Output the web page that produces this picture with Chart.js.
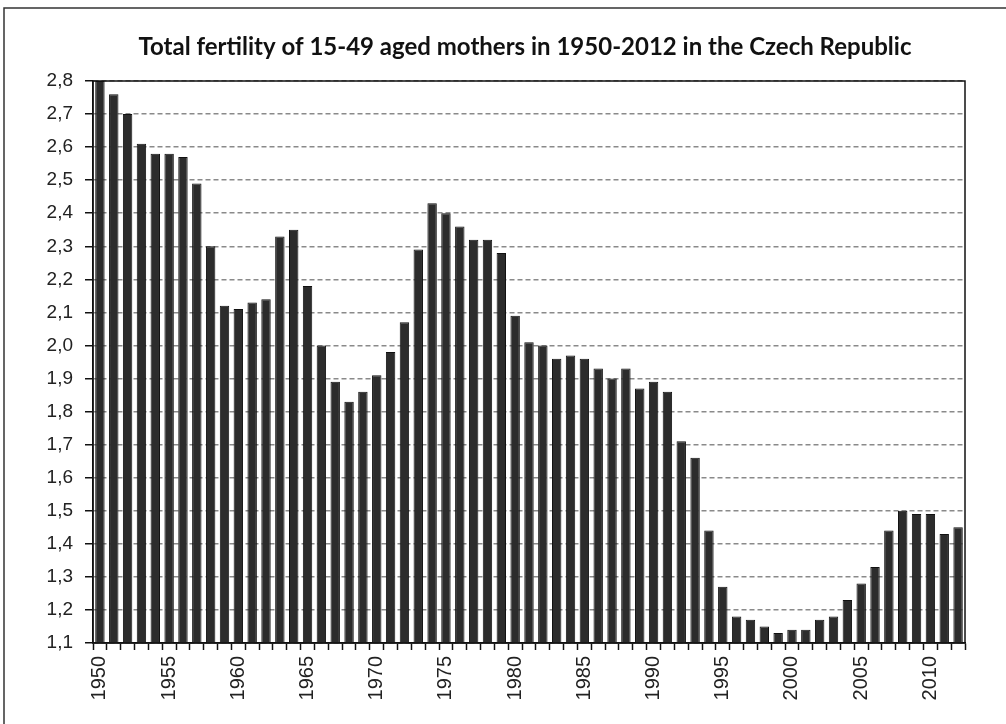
<!DOCTYPE html>
<html lang="en">
<head>
<meta charset="UTF-8">
<title>Total fertility 1950-2012</title>
<script src="https://cdn.jsdelivr.net/npm/chart.js"></script>
<style>
  html, body { margin: 0; padding: 0; background: #fff; }
  #wrap { width: 1006px; height: 724px; }
</style>
</head>
<body>
<div id="wrap"><canvas id="chart" width="1006" height="724"></canvas></div>
<script>
    const years = [];
    for (let y = 1950; y <= 2012; y++) years.push(String(y));

    // total fertility rate
    const fertility = [
        2.80, 2.76, 2.70, 2.61, 2.58, 2.58, 2.57, 2.49, 2.30, 2.12,
        2.11, 2.13, 2.14, 2.33, 2.35, 2.18, 2.00, 1.89, 1.83, 1.86,
        1.91, 1.98, 2.07, 2.29, 2.43, 2.40, 2.36, 2.32, 2.32, 2.28,
        2.09, 2.01, 2.00, 1.96, 1.97, 1.96, 1.93, 1.90, 1.93, 1.87,
        1.89, 1.86, 1.71, 1.66, 1.44, 1.27, 1.18, 1.17, 1.15, 1.13,
        1.14, 1.14, 1.17, 1.18, 1.23, 1.28, 1.33, 1.44, 1.50, 1.49,
        1.49, 1.43, 1.45
    ];

    const yMin = 1.1;
    const yMax = 2.8;
    const titleText = 'Total fertility of 15-49 aged mothers in 1950-2012 in the Czech Republic';

    // title, plot frame and the picture's own top/left edge
    const framePlugin = {
        id: 'frame',
        afterDraw(chart) {
            const { ctx, chartArea: a } = chart;
            ctx.save();
            ctx.strokeStyle = '#111';
            ctx.lineWidth = 1.5;
            ctx.strokeRect(a.left, a.top, a.right - a.left, a.bottom - a.top);
            ctx.strokeStyle = '#333';
            ctx.beginPath();
            ctx.moveTo(4, 724);
            ctx.lineTo(4, 8);
            ctx.lineTo(1006, 8);
            ctx.stroke();

            ctx.fillStyle = '#111';
            ctx.font = 'bold 24px Lato';
            ctx.textAlign = 'center';
            ctx.textBaseline = 'middle';
            ctx.fillText(titleText, 525, 47);
            ctx.restore();
        }
    };

    new Chart(document.getElementById('chart'), {
        type: 'bar',
        data: {
            labels: years,
            datasets: [{
                data: fertility,
                backgroundColor: '#2c2c2c',
                borderColor: '#111',
                borderWidth: 1,
                categoryPercentage: 1.0,
                barPercentage: 0.68
            }]
        },
        options: {
            responsive: false,
            animation: false,
            layout: { padding: { left: 0, right: 41, top: 81, bottom: 0 } },
            plugins: {
                legend: { display: false },
                tooltip: { enabled: false },
                title: { display: false }
            },
            scales: {
                x: {
                    afterFit(scale) { scale.height = 81; },
                    grid: {
                        offset: true,
                        drawOnChartArea: false,
                        drawTicks: true,
                        tickLength: 7,
                        tickColor: '#111',
                        tickWidth: 1.5
                    },
                    border: { color: '#111', width: 1.5 },
                    ticks: {
                        autoSkip: false,
                        maxRotation: 90,
                        minRotation: 90,
                        padding: 6,
                        color: '#222',
                        font: { family: 'Liberation Sans', size: 20 },
                        callback(value) {
                            const lab = this.getLabelForValue(value);
                            return Number(lab) % 5 === 0 ? lab : '';
                        }
                    }
                },
                y: {
                    min: yMin,
                    max: yMax,
                    afterFit(scale) { scale.width = 93; },
                    grid: {
                        color: '#8a8a8a',
                        lineWidth: 1.5,
                        drawTicks: true,
                        tickLength: 8,
                        tickColor: '#111',
                        tickWidth: 1.5
                    },
                    border: { color: '#111', width: 1.5, dash: [5, 3] },
                    ticks: {
                        stepSize: 0.1,
                        padding: 12,
                        color: '#222',
                        font: { family: 'Liberation Sans', size: 19 },
                        callback(value) { return value.toFixed(1).replace('.', ','); }
                    }
                }
            }
        },
        plugins: [framePlugin]
    });
</script>
</body>
</html>
